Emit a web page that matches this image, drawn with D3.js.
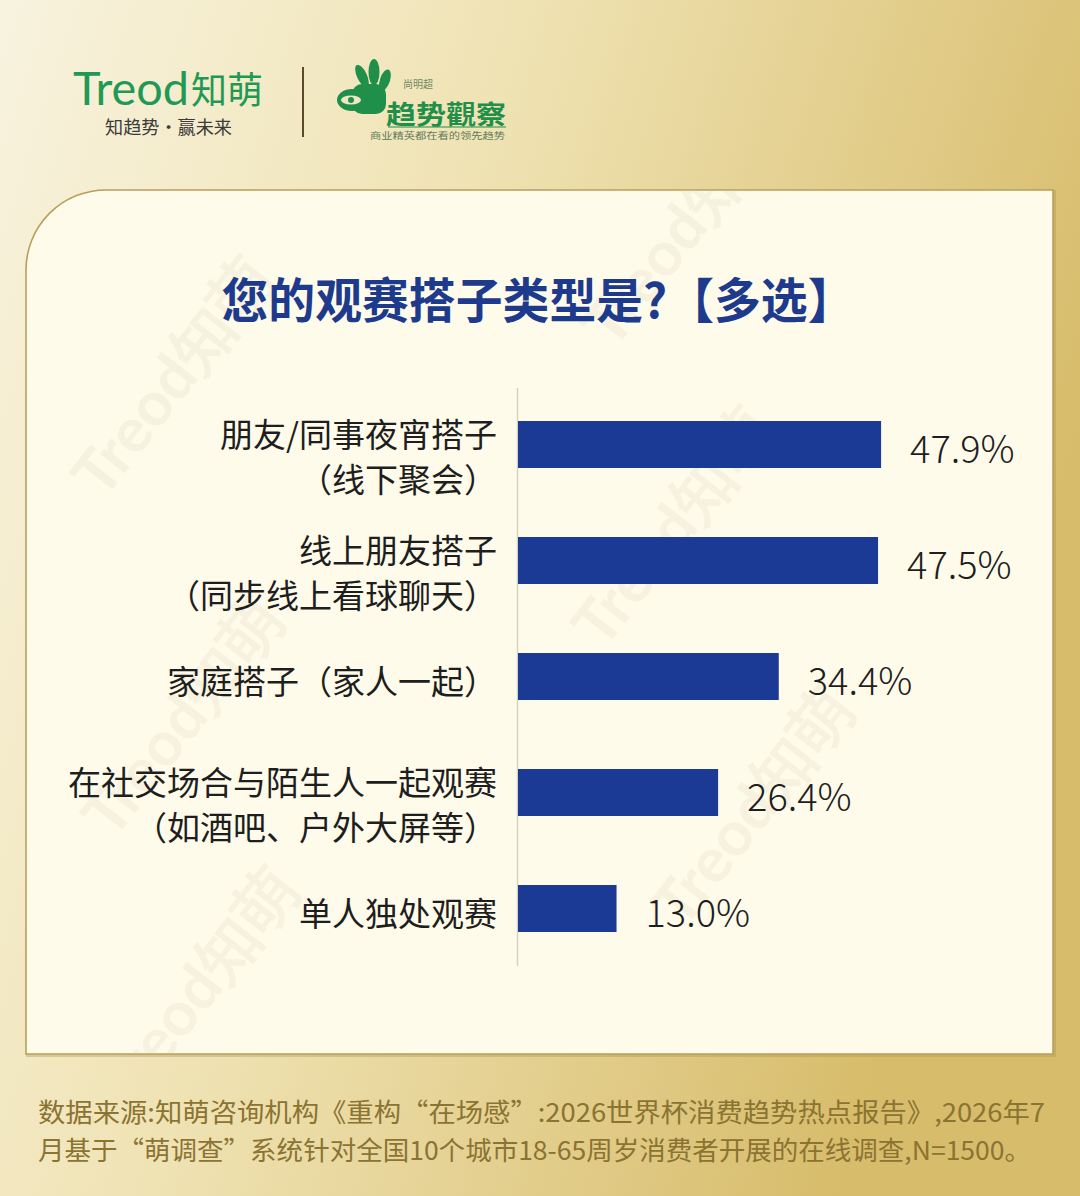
<!DOCTYPE html>
<html>
<head>
<meta charset="utf-8">
<script src="https://cdn.jsdelivr.net/npm/d3@7"></script>
<style>
  html, body { margin: 0; padding: 0; width: 1080px; height: 1196px; overflow: hidden; background: #efe3b5; }
  svg { display: block; }
</style>
</head>
<body>
<svg id="chart" width="1080" height="1196"></svg>
<script>
// ---------- data ----------
const categories = [
  "朋友/同事夜宵搭子\n（线下聚会）",
  "线上朋友搭子\n（同步线上看球聊天）",
  "家庭搭子（家人一起）",
  "在社交场合与陌生人一起观赛\n（如酒吧、户外大屏等）",
  "单人独处观赛"
];
const values = [47.9, 47.5, 34.4, 26.4, 13.0];
const valueLabels = ["47.9%", "47.5%", "34.4%", "26.4%", "13.0%"];
const titleText = "您的观赛搭子类型是?【多选】";
const footerLines = [
  "数据来源:知萌咨询机构《重构“在场感”:2026世界杯消费趋势热点报告》,2026年7",
  "月基于“萌调查”系统针对全国10个城市18-65周岁消费者开展的在线调查,N=1500。"
];
const watermarks = [[190, 390], [700, 240], [690, 540], [200, 730], [770, 820], [215, 1000]];

// ---------- setup ----------
const svg = d3.select("#chart");
const defs = svg.append("defs");
const CJK = "'Noto Sans CJK SC', 'Noto Sans', sans-serif";

const bg = defs.append("linearGradient").attr("id", "bg")
  .attr("x1", 0).attr("y1", 0).attr("x2", 1).attr("y2", 0.35);
bg.append("stop").attr("offset", 0).attr("stop-color", "#f8f3df");
bg.append("stop").attr("offset", 0.45).attr("stop-color", "#efe2b2");
bg.append("stop").attr("offset", 1).attr("stop-color", "#d7bc6b");

svg.append("rect").attr("width", 1080).attr("height", 1196).attr("fill", "url(#bg)");

// ---------- header ----------
const header = svg.append("g");
header.append("text").attr("x", 73).attr("y", 105)
  .attr("font-family", "Lato, 'DejaVu Sans', sans-serif").attr("font-weight", 400)
  .attr("font-size", 46).attr("fill", "#1f9955")
  .attr("textLength", 116).attr("lengthAdjust", "spacingAndGlyphs")
  .text("Treod");
header.append("text").attr("x", 191).attr("y", 104)
  .attr("font-family", CJK).attr("font-weight", 400)
  .attr("font-size", 37).attr("fill", "#1f9955")
  .attr("textLength", 72).attr("lengthAdjust", "spacingAndGlyphs")
  .text("知萌");
header.append("text").attr("x", 105).attr("y", 134)
  .attr("font-family", CJK).attr("font-size", 18).attr("fill", "#3b3b38")
  .attr("textLength", 127).attr("lengthAdjust", "spacingAndGlyphs")
  .text("知趋势·赢未来");
header.append("line").attr("x1", 303).attr("x2", 303).attr("y1", 67).attr("y2", 137)
  .attr("stroke", "#5b4a2e").attr("stroke-width", 2);

// second logo (hand icon + text)
const logo = header.append("g").attr("fill", "#1f8f4a");
logo.append("rect").attr("x", 352).attr("y", 84).attr("width", 34).attr("height", 30).attr("rx", 10);
logo.append("ellipse").attr("cx", 362).attr("cy", 76).attr("rx", 5).attr("ry", 12).attr("transform", "rotate(-25 362 76)");
logo.append("ellipse").attr("cx", 374).attr("cy", 72).attr("rx", 5.5).attr("ry", 13);
logo.append("ellipse").attr("cx", 385).attr("cy", 80).attr("rx", 5).attr("ry", 11).attr("transform", "rotate(18 385 80)");
logo.append("ellipse").attr("cx", 352).attr("cy", 100).attr("rx", 15).attr("ry", 11);
header.append("ellipse").attr("cx", 351).attr("cy", 100).attr("rx", 10).attr("ry", 4.5).attr("fill", "#efe6c4");
header.append("circle").attr("cx", 351).attr("cy", 100).attr("r", 3).attr("fill", "#1f8f4a");
header.append("text").attr("x", 403).attr("y", 88)
  .attr("font-family", CJK).attr("font-size", 10).attr("fill", "#6f8a64")
  .text("尚明超");
header.append("text").attr("x", 386).attr("y", 124)
  .attr("font-family", CJK).attr("font-weight", 700).attr("font-size", 26).attr("fill", "#1f8f4a")
  .attr("textLength", 120).attr("lengthAdjust", "spacingAndGlyphs")
  .text("趋势觀察");
header.append("line").attr("x1", 388).attr("x2", 506).attr("y1", 127).attr("y2", 127)
  .attr("stroke", "#1f8f4a").attr("stroke-width", 1);
header.append("text").attr("x", 370).attr("y", 139)
  .attr("font-family", CJK).attr("font-size", 9).attr("fill", "#5e7a5a")
  .attr("textLength", 135).attr("lengthAdjust", "spacingAndGlyphs")
  .text("商业精英都在看的领先趋势");

// ---------- panel ----------
const px0 = 26, py0 = 190, px1 = 1053, py1 = 1054, r = 80;
const panelPath = d3.path();
panelPath.moveTo(px0 + r, py0);
panelPath.lineTo(px1, py0);
panelPath.lineTo(px1, py1);
panelPath.lineTo(px0, py1);
panelPath.lineTo(px0, py0 + r);
panelPath.arcTo(px0, py0, px0 + r, py0, r);
panelPath.closePath();
defs.append("clipPath").attr("id", "panelClip").append("path").attr("d", panelPath.toString());
svg.append("path").attr("d", panelPath.toString())
  .attr("fill", "none").attr("stroke", "#a98f4a").attr("stroke-width", 3).attr("opacity", 0.35)
  .attr("transform", "translate(1.5,1.5)");
svg.append("path").attr("d", panelPath.toString())
  .attr("fill", "#fefbea").attr("stroke", "#b9a05a").attr("stroke-width", 1.6);

// watermarks (very faint, inside panel)
const wm = svg.append("g").attr("pointer-events", "none").attr("clip-path", "url(#panelClip)");
watermarks.forEach(([x, y]) => {
  wm.append("text").attr("x", x).attr("y", y)
    .attr("transform", `rotate(-52 ${x} ${y})`)
    .attr("text-anchor", "middle")
    .attr("font-family", "Lato, sans-serif").attr("font-size", 62).attr("font-weight", 700)
    .attr("fill", "#cfc8ac").attr("opacity", 0.16)
    .text("Treod知萌");
});

// ---------- title ----------
svg.append("text").attr("x", 538).attr("y", 318)
  .attr("text-anchor", "middle")
  .attr("font-family", CJK).attr("font-weight", 700).attr("font-size", 48)
  .attr("fill", "#1d3a8c")
  .attr("textLength", 633).attr("lengthAdjust", "spacingAndGlyphs")
  .text(titleText);

// ---------- scales ----------
const y = d3.scaleBand().domain(categories).range([386.5, 966.5])
  .paddingInner(0.595).paddingOuter(0.2975);
const x = d3.scaleLinear().domain([0, 100]).range([518, 1276]);

// axis line
const yAxis = d3.axisLeft(y).tickSize(0).tickFormat("");
const axisG = svg.append("g").attr("transform", `translate(${x(0) - 0.5},0)`).call(yAxis);
axisG.select(".domain").attr("stroke", "#d6d2c2").attr("stroke-width", 1.5)
  .attr("d", `M0,388V966`);

// bars
svg.append("g").selectAll("rect").data(values).join("rect")
  .attr("x", x(0))
  .attr("y", (d, i) => y(categories[i]))
  .attr("width", d => x(d) - x(0))
  .attr("height", y.bandwidth())
  .attr("fill", "#1b3a95");

// value labels
svg.append("g").selectAll("text").data(values).join("text")
  .attr("x", d => x(d) + 29)
  .attr("y", (d, i) => y(categories[i]) + y.bandwidth() / 2 + 18)
  .attr("font-family", CJK).attr("font-weight", 300).attr("font-size", 38).attr("fill", "#1e1e1e")
  .text((d, i) => valueLabels[i]);

// category labels
const labG = svg.append("g");
categories.forEach((c, i) => {
  const lines = c.split("\n");
  const cy = y(c) + y.bandwidth() / 2;
  const t = labG.append("text")
    .attr("text-anchor", "end")
    .attr("font-family", CJK).attr("font-size", 33).attr("fill", "#1e1e1e");
  if (lines.length === 1) {
    t.append("tspan").attr("x", 497).attr("y", cy + 17).text(lines[0]);
  } else {
    t.append("tspan").attr("x", 497).attr("y", cy + 2).text(lines[0]);
    t.append("tspan").attr("x", 497).attr("y", cy + 47).text(lines[1]);
  }
});

// ---------- footer ----------
const footerWidths = [1007, 993];
footerLines.forEach((line, i) => {
  svg.append("text").attr("x", 38).attr("y", 1122 + i * 38)
    .attr("font-family", CJK).attr("font-size", 26).attr("fill", "#8b7332")
    .attr("textLength", footerWidths[i]).attr("lengthAdjust", "spacingAndGlyphs")
    .text(line);
});
</script>
</body>
</html>
